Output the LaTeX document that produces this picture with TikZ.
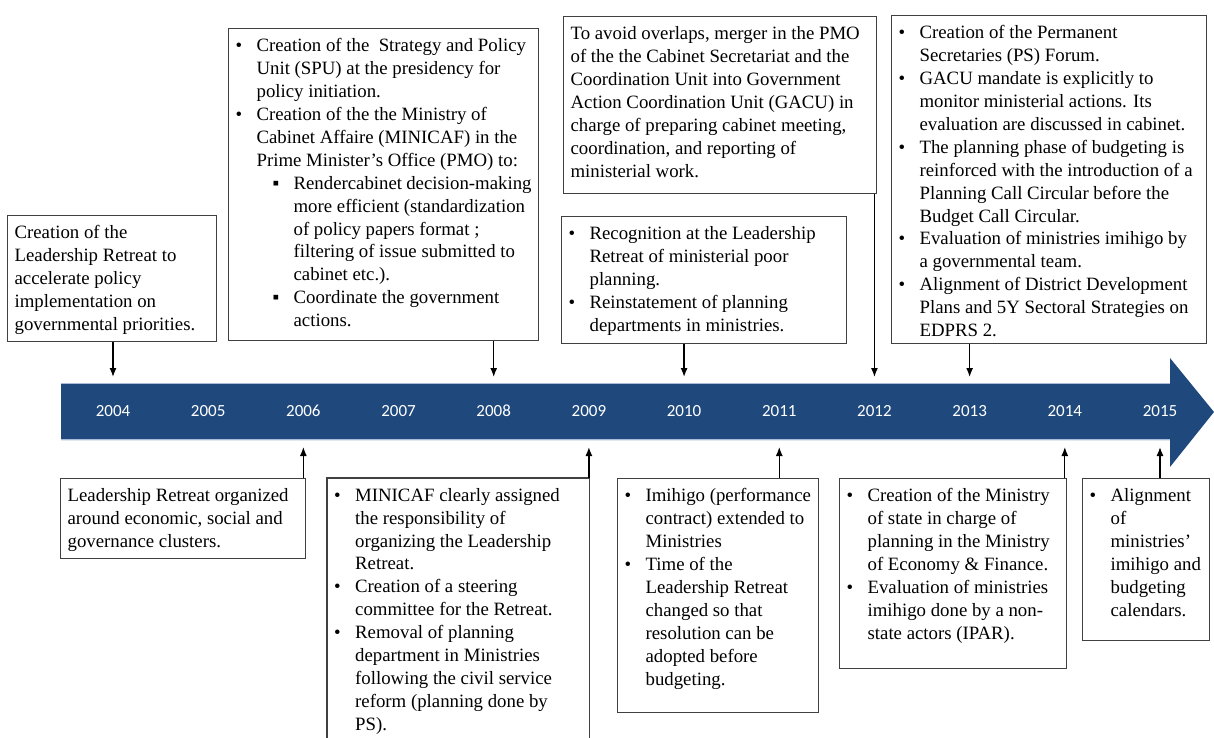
\documentclass[tikz,border=0pt]{standalone}
\usepackage{fontspec}
\setmainfont{Liberation Serif}
\newfontfamily\yearfont{Carlito}
\usetikzlibrary{arrows.meta}

\definecolor{barblue}{HTML}{1F497D}
\definecolor{baredge}{HTML}{A9BDDA}

% text block of a card: width, height, body
\newcommand{\cardtext}[3]{\parbox[t][#2pt][t]{#1pt}{#3}}
\newcommand{\itm}{\par\noindent\hangindent=21pt\hangafter=1\makebox[21pt][l]{\textbullet}}
\newcommand{\sitm}{\par\noindent\hangindent=58pt\hangafter=1\hspace*{37pt}\makebox[21pt][l]{▪}}

\tikzset{
  cardtxt/.style={anchor=north west, inner xsep=7pt, inner ysep=10pt, text=black,
    font=\fontsize{18.8}{22.9}\selectfont},
  card/.style={cardtxt, draw=black!75, line width=1.2pt, fill=white},
  year/.style={text=white, font=\yearfont\fontsize{17}{20}\selectfont},
  conn/.style={line width=1.3pt, -{Latex[length=9pt,width=7pt]}},
}

\begin{document}
\begin{tikzpicture}[x=1pt,y=-1pt]
      \useasboundingbox (0,0) rectangle (1214,738);

      % the time line
      \fill[barblue] (61,383) -- (1170,383) -- (1170,358) -- (1214,412)
        -- (1170,467) -- (1170,440) -- (61,440) -- cycle;
      \draw[baredge, line width=1pt] (61,383.5) -- (1170,383.5) (61,439.5) -- (1170,439.5);

      \foreach \yr [count=\i from 0] in {2004,...,2015}
        \node[year] (y\yr) at ({113+95.18*\i},411) {\yr};

      \coordinate (tipT) at (0,377);
      \coordinate (tipB) at (0,447);

      % above the line
      \node[card] (t04) at (7,215) {\cardtext{195}{106}{%
        Creation of the\\ Leadership Retreat to\\ accelerate policy\\
        implementation on\\ governmental priorities.}};

      \node[card] (t08) at (228,28) {\cardtext{296}{292}{%
        \itm Creation of the~ Strategy and Policy\\ Unit (SPU) at the presidency for\\ policy initiation.
        \itm Creation of the the Ministry of\\ Cabinet Affaire (MINICAF) in the\\ Prime Minister’s Office (PMO) to:
        \sitm Rendercabinet decision-making\\ more efficient (standardization\\ of policy papers format ;\\
          filtering of issue submitted to\\ cabinet etc.).
        \sitm Coordinate the government\\ actions.}};

      \node[card] (t10) at (561,216) {\cardtext{271}{107}{%
        \itm Recognition at the Leadership\\ Retreat of ministerial poor\\ planning.
        \itm Reinstatement of planning\\ departments in ministries.}};

      \node[card] (t12) at (563,16) {\cardtext{299}{157}{%
        To avoid overlaps, merger in the PMO\\ of the the Cabinet Secretariat and the\\
        Coordination Unit into Government\\ Action Coordination Unit (GACU) in\\
        charge of preparing cabinet meeting,\\ coordination, and reporting of\\ ministerial work.}};

      \node[card] (t13) at (891,15) {\cardtext{301}{308}{%
        \itm Creation of the Permanent\\ Secretaries (PS) Forum.
        \itm GACU mandate is explicitly to\\ monitor ministerial actions. Its\\ evaluation are discussed in cabinet.
        \itm The planning phase of budgeting is\\ reinforced with the introduction of a\\
          Planning Call Circular before the\\ Budget Call Circular.
        \itm Evaluation of ministries imihigo by\\ a governmental team.
        \itm Alignment of District Development\\ Plans and 5Y Sectoral Strategies on\\ EDPRS 2.}};

      % below the line
      \node[card] (b06) at (60,478) {\cardtext{231}{60}{%
        Leadership Retreat organized\\ around economic, social and\\ governance clusters.}};

      % this card runs off the bottom edge: no bottom side
      \node[cardtxt] (b09) at (327,478) {\cardtext{248}{240}{%
        \itm MINICAF clearly assigned\\ the responsibility of\\ organizing the Leadership\\ Retreat.
        \itm Creation of a steering\\ committee for the Retreat.
        \itm Removal of planning\\ department in Ministries\\ following the civil service\\
          reform (planning done by\\ PS).}};
      \draw[draw=black!75, line width=1.2pt] (b09.south west) -- (b09.north west)
        -- (b09.north east) -- (b09.south east);

      \node[card] (b11) at (617,478) {\cardtext{187}{214}{%
        \itm Imihigo (performance\\ contract) extended to\\ Ministries
        \itm Time of the\\ Leadership Retreat\\ changed so that\\ resolution can be\\
          adopted before\\ budgeting.}};

      \node[card] (b14) at (839,478) {\cardtext{213}{170}{%
        \itm Creation of the Ministry\\ of state in charge of\\ planning in the Ministry\\
          of Economy \& Finance.
        \itm Evaluation of ministries\\ imihigo done by a non-\\ state actors (IPAR).}};

      \node[card] (b15) at (1082,478) {\cardtext{113}{142}{%
        \itm Alignment\\ of\\ ministries’\\ imihigo and\\ budgeting\\ calendars.}};

      \draw[conn] (t04.south -| y2004) -- (tipT -| y2004);
      \draw[conn] (t08.south -| y2008) -- (tipT -| y2008);
      \draw[conn] (t10.south -| y2010) -- (tipT -| y2010);
      \draw[conn] (t12.south -| y2012) -- (tipT -| y2012);
      \draw[conn] (t13.south -| y2013) -- (tipT -| y2013);

      \draw[conn] (b06.north -| y2006) -- (tipB -| y2006);
      \draw[conn] (b09.north -| y2009) -- (tipB -| y2009);
      \draw[conn] (b11.north -| y2011) -- (tipB -| y2011);
      \draw[conn] (b14.north -| y2014) -- (tipB -| y2014);
      \draw[conn] (b15.north -| y2015) -- (tipB -| y2015);
    \end{tikzpicture}
\end{document}
